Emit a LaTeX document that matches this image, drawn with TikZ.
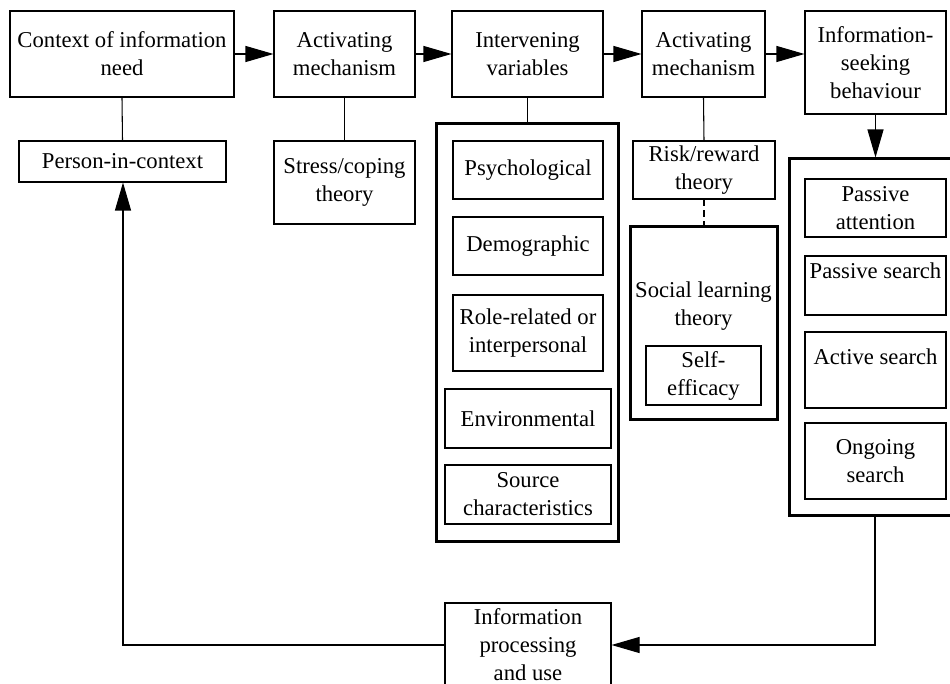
\documentclass[tikz,border=0pt]{standalone}
\usepackage{fontspec}
\setmainfont{Liberation Serif}
\usetikzlibrary{arrows.meta}
\tikzset{
  thinbox/.style={draw=black, line width=0.8pt, inner sep=0pt, align=center, font=\fontsize{17}{21}\selectfont},
  thickbox/.style={draw=black, line width=2.25pt, inner sep=0pt},
  txt/.style={inner sep=0pt, align=center, font=\fontsize{17}{21}\selectfont},
  conn/.style={draw=black, line width=0.8pt},
  arr/.style={conn, -{Triangle[length=21pt,width=12pt]}},
  dashconn/.style={conn, dash pattern=on 5pt off 3pt}
}
\newcommand{\BoxAt}[7]{\node[#2, minimum width={(#5-#3)*0.75pt}, minimum height={(#6-#4)*0.75pt}] (#1) at ({(#3+#5)/2},{(#4+#6)/2}) {#7};}
\begin{document}
\begin{tikzpicture}[x=0.75pt,y=-0.75pt]
\useasboundingbox (0,0) rectangle (950,684);
\fill[white] (0,0) rectangle (950,684);
\clip (0,0) rectangle (950,684);
% top row
\BoxAt{ctx}{thinbox}{10}{11}{234}{97}{Context of information\\need}
\BoxAt{act1}{thinbox}{274}{11}{415}{97}{Activating\\mechanism}
\BoxAt{intv}{thinbox}{452}{11}{603}{97}{Intervening\\variables}
\BoxAt{act2}{thinbox}{642}{11}{765}{97}{Activating\\mechanism}
\BoxAt{iseek}{thinbox}{805}{11}{946}{114}{Information-\\seeking\\behaviour}
% second row
\BoxAt{pic}{thinbox}{19}{141}{226}{182}{Person-in-context}
\BoxAt{stress}{thinbox}{274}{141}{415}{224}{Stress/coping\\theory}
% intervening variables group
\BoxAt{ivbig}{thickbox}{436}{124}{618}{541}{}
\BoxAt{psy}{thinbox}{453}{141}{603}{199}{Psychological}
\BoxAt{demo}{thinbox}{453}{217}{603}{275}{Demographic}
\BoxAt{role}{thinbox}{453}{295}{603}{371}{Role-related or\\interpersonal}
\BoxAt{env}{thinbox}{445}{389}{611}{448}{Environmental}
\BoxAt{src}{thinbox}{445}{465}{611}{524}{Source\\characteristics}
% risk / social learning
\BoxAt{risk}{thinbox}{633}{141}{775}{199}{Risk/reward\\theory}
\BoxAt{social}{thickbox}{630}{227}{777}{419}{}
\node[txt] (socialt) at (703.5,306) {Social learning\\theory};
\BoxAt{self}{thinbox}{646}{346}{761}{405}{Self-\\efficacy}
% information-seeking group
\BoxAt{isbig}{thickbox}{789}{159}{961}{515}{}
\BoxAt{pa}{thinbox}{805}{179}{946}{237}{Passive\\attention}
\BoxAt{ps}{thinbox}{805}{256}{946}{315}{}
\node[txt] (pst) at (875.5,271) {Passive search};
\BoxAt{as}{thinbox}{805}{332}{946}{408}{}
\node[txt] (ast) at (875.5,357) {Active search};
\BoxAt{og}{thinbox}{805}{423}{946}{499}{Ongoing\\search}
% bottom
\BoxAt{ipu}{thinbox}{445}{603}{611}{687}{Information\\processing\\and use}
% connectors
\draw[arr] (ctx.east) -- (act1.west);
\draw[arr] (act1.east) -- (intv.west);
\draw[arr] (intv.east) -- (act2.west);
\draw[arr] (act2.east) -- (act2.east -| iseek.west);
\draw[arr] (iseek.south) -- (iseek.south |- isbig.north);
\draw[conn] (ctx.south) -- (pic.north);
\draw[conn] (act1.south) -- (stress.north);
\draw[conn] (intv.south) -- (intv.south |- ivbig.north);
\draw[conn] (act2.south) -- (risk.north);
\draw[dashconn] (risk.south) -- (risk.south |- social.north);
\coordinate (cr) at (875,645);
\coordinate (cl) at (123,645);
\draw[arr] (isbig.south) -- (cr) -- (ipu.east);
\draw[arr] (ipu.west) -- (cl) -- (cl |- pic.south);
\end{tikzpicture}
\end{document}
